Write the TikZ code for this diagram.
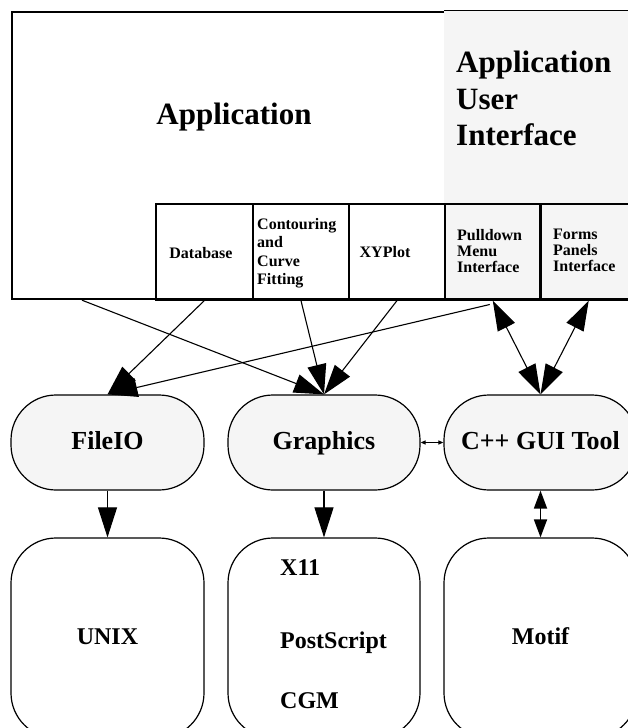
\documentclass[tikz,border=0pt]{standalone}
\usepackage{fontspec}
\setmainfont{Liberation Serif}
\usetikzlibrary{arrows.meta}
\definecolor{lg}{RGB}{245,245,245}
\begin{document}
\begin{tikzpicture}[x=1pt,y=-1pt,
  bigtxt/.style={font=\fontsize{31}{36.5}\selectfont\bfseries, inner sep=0pt, align=left},
  smalltxt/.style={font=\fontsize{16}{18.5}\selectfont\bfseries, inner sep=0pt, align=left},
  tighttxt/.style={font=\fontsize{16}{16}\selectfont\bfseries, inner sep=0pt, align=left},
  lowtxt/.style={font=\fontsize{24}{28}\selectfont\bfseries, inner sep=0pt},
  cellbox/.style={draw, line width=2.2pt, minimum height=95.3pt, inner sep=0pt, anchor=north west},
  midnode/.style={draw, line width=1.2pt, fill=lg, rounded corners=45pt, minimum width=193pt, minimum height=95pt, inner sep=0pt, text height=14pt, text depth=0pt, font=\fontsize{26}{30}\selectfont\bfseries},
  lownode/.style={draw, line width=1.2pt, fill=white, rounded corners=45pt, minimum width=193pt, minimum height=200pt, inner sep=0pt, text height=12pt, text depth=0pt, font=\fontsize{24}{28}\selectfont\bfseries},
  bigtip/.style={-{Triangle[length=30pt,width=19pt]}, line width=1.1pt},
  bigboth/.style={{Triangle[length=30pt,width=19pt]}-{Triangle[length=30pt,width=19pt]}, line width=1.1pt},
  medboth/.style={{Triangle[length=18pt,width=13pt]}-{Triangle[length=18pt,width=13pt]}, line width=1.8pt},
  tinyboth/.style={{Triangle[length=5pt,width=4pt]}-{Triangle[length=5pt,width=4pt]}, line width=1.1pt}]
\useasboundingbox (0,0) rectangle (628,728);
\clip (0,0) rectangle (628,728);

% top application box
\node[draw, line width=2.2pt, minimum width=629pt, minimum height=287pt, inner sep=0pt, anchor=north west] (app) at (11,11) {};
\fill[lg] (444,11) rectangle (645,297);
\draw[line width=1pt] (444,10.8) -- (645,10.8);
\node[bigtxt, anchor=base] (apptxt) at (234,124) {Application};
\node[bigtxt, anchor=north west] (aui) at (456,51) {Application\\User\\Interface};

% cells
\node[cellbox, minimum width=96.7pt] (db) at (155,203) {};
\node[cellbox, minimum width=96.3pt] (cont) at (251.7,203) {};
\node[cellbox, minimum width=96pt] (xy) at (348,203) {};
\node[cellbox, fill=lg, minimum width=95.3pt] (pull) at (444,203) {};
\node[cellbox, fill=lg, minimum width=96.7pt] (forms) at (539.3,203) {};

\node[smalltxt, anchor=base] (dbt) at (201,258) {Database};
\node[smalltxt, anchor=north west] (contt) at (257,218) {Contouring\\and\\Curve\\Fitting};
\node[smalltxt, anchor=base] (xyt) at (385,257) {XYPlot};
\node[tighttxt, anchor=north west] (pullt) at (457,229) {Pulldown\\Menu\\Interface};
\node[tighttxt, anchor=north west] (formst) at (553,229) {Forms\\Panels\\Interface};

% middle row
\node[midnode] (fileio) at (107.5,442.5) {FileIO};
\node[midnode, minimum width=192pt] (graphics) at (324,442.5) {Graphics};
\node[midnode] (gui) at (540.5,442.5) {C++ GUI Tool};

% bottom row
\node[lownode] (unix) at (107.5,638) {UNIX};
\node[lownode, minimum width=192pt] (gbox) at (324,638) {};
\node[lownode] (motif) at (540.5,638) {Motif};
\node[lowtxt, anchor=base west] (x11) at (280,575) {X11};
\node[lowtxt, anchor=base west] (ps) at (280,648) {PostScript};
\node[lowtxt, anchor=base west] (cgm) at (280,708) {CGM};

% connectors
\draw[bigtip] ([xshift=71pt]app.south west) -- (graphics.north);
\draw[bigtip] (db.south) -- (fileio.north);
\draw[bigtip] (cont.south) -- (graphics.north);
\draw[bigtip] (xy.south) -- (graphics.north);
\draw[bigtip] ([xshift=-3pt,yshift=-4pt]pull.south) -- (fileio.north);
\draw[bigboth] (pull.south) -- (gui.north);
\draw[bigboth] (forms.south) -- (gui.north);
\draw[tinyboth] (graphics.east) -- (gui.west);
\draw[bigtip] (fileio.south) -- (unix.north);
\draw[bigtip] (graphics.south) -- (gbox.north);
\draw[medboth] (gui.south) -- (motif.north);
\end{tikzpicture}
\end{document}
